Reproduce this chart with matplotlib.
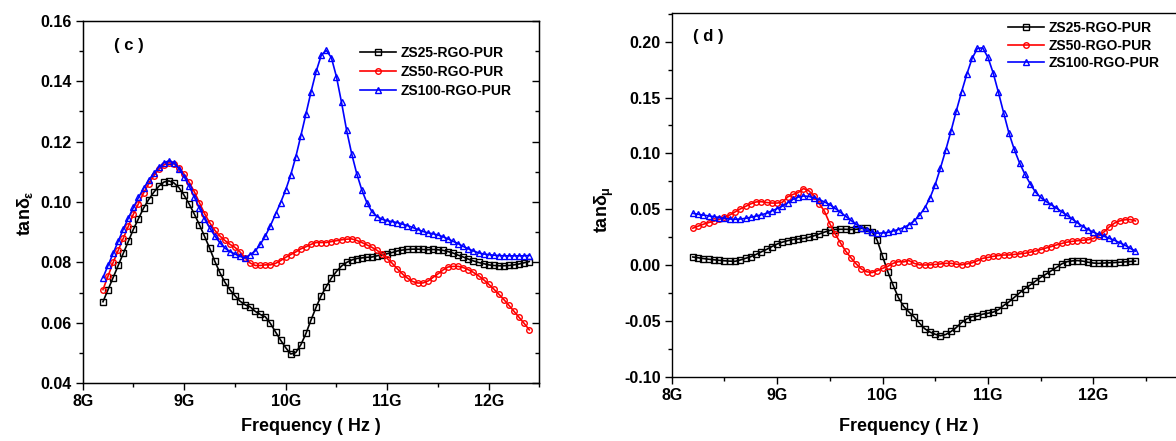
import numpy as np
import matplotlib
matplotlib.use("Agg")
import matplotlib.pyplot as plt
from matplotlib.ticker import MultipleLocator, FixedLocator, FuncFormatter

plt.rcParams['font.family'] = ['Liberation Sans', 'DejaVu Sans']
plt.rcParams['font.weight'] = 'bold'
plt.rcParams['mathtext.fontset'] = 'custom'
plt.rcParams['mathtext.rm'] = 'Liberation Sans:bold'
plt.rcParams['mathtext.it'] = 'Liberation Sans:bold'
plt.rcParams['mathtext.bf'] = 'Liberation Sans:bold'

# frequency grid in GHz (8.2 - 12.4, step 0.05)
freq = np.round(np.arange(8.2, 12.4001, 0.05), 2)

labels = ['ZS25-RGO-PUR', 'ZS50-RGO-PUR', 'ZS100-RGO-PUR']
xticks = [8, 9, 10, 11, 12]

# (c) dielectric loss tangent
tan_e_zs25 = [
    0.0670, 0.0710, 0.0750, 0.0790, 0.0830, 0.0870, 0.0910, 0.0945, 0.0980, 0.1008,
    0.1032, 0.1052, 0.1066, 0.1070, 0.1063, 0.1047, 0.1022, 0.0993, 0.0960, 0.0925,
    0.0887, 0.0848, 0.0805, 0.0768, 0.0735, 0.0710, 0.0690, 0.0672, 0.0660, 0.0653,
    0.0638, 0.0628, 0.0620, 0.0598, 0.0570, 0.0543, 0.0518, 0.0497, 0.0502, 0.0528,
    0.0565, 0.0610, 0.0652, 0.0690, 0.0720, 0.0748, 0.0770, 0.0788, 0.0800, 0.0808,
    0.0813, 0.0815, 0.0817, 0.0818, 0.0822, 0.0825, 0.0829, 0.0833, 0.0838, 0.0841,
    0.0843, 0.0844, 0.0844, 0.0843, 0.0842, 0.0843, 0.0842, 0.0840, 0.0836, 0.0831,
    0.0824, 0.0818, 0.0811, 0.0805, 0.0800, 0.0796, 0.0792, 0.0790, 0.0789, 0.0789,
    0.0790, 0.0792, 0.0795, 0.0799, 0.0803]
tan_e_zs50 = [
    0.0710, 0.0755, 0.0800, 0.0840, 0.0880, 0.0920, 0.0960, 0.0995, 0.1030, 0.1060,
    0.1087, 0.1108, 0.1123, 0.1130, 0.1126, 0.1112, 0.1092, 0.1065, 0.1034, 0.0998,
    0.0962, 0.0932, 0.0907, 0.0888, 0.0873, 0.0860, 0.0850, 0.0835, 0.0815, 0.0798,
    0.0790, 0.0790, 0.0792, 0.0792, 0.0797, 0.0806, 0.0817, 0.0826, 0.0835, 0.0845,
    0.0852, 0.0860, 0.0866, 0.0866, 0.0866, 0.0869, 0.0872, 0.0875, 0.0877, 0.0878,
    0.0873, 0.0866, 0.0858, 0.0850, 0.0840, 0.0828, 0.0813, 0.0797, 0.0779, 0.0762,
    0.0748, 0.0737, 0.0732, 0.0732, 0.0738, 0.0750, 0.0762, 0.0775, 0.0785, 0.0787,
    0.0787, 0.0783, 0.0776, 0.0767, 0.0756, 0.0743, 0.0728, 0.0712, 0.0695, 0.0677,
    0.0658, 0.0638, 0.0618, 0.0598, 0.0577]
tan_e_zs100 = [
    0.0750, 0.0790, 0.0830, 0.0870, 0.0910, 0.0947, 0.0982, 0.1015, 0.1045, 0.1072,
    0.1095, 0.1115, 0.1130, 0.1136, 0.1130, 0.1110, 0.1084, 0.1052, 0.1017, 0.0980,
    0.0945, 0.0915, 0.0889, 0.0866, 0.0848, 0.0836, 0.0828, 0.0820, 0.0815, 0.0826,
    0.0838, 0.0860, 0.0888, 0.0922, 0.0960, 0.0998, 0.1040, 0.1090, 0.1150, 0.1220,
    0.1292, 0.1365, 0.1432, 0.1485, 0.1502, 0.1478, 0.1415, 0.1330, 0.1238, 0.1160,
    0.1094, 0.1040, 0.0998, 0.0968, 0.0952, 0.0943, 0.0938, 0.0935, 0.0932, 0.0927,
    0.0922, 0.0916, 0.0909, 0.0903, 0.0898, 0.0895, 0.0891, 0.0885, 0.0878, 0.0870,
    0.0862, 0.0853, 0.0845, 0.0838, 0.0832, 0.0828, 0.0826, 0.0824, 0.0823, 0.0822,
    0.0822, 0.0822, 0.0822, 0.0822, 0.0823]

# (d) magnetic loss tangent
tan_m_zs25 = [
    0.0072, 0.0065, 0.0058, 0.0052, 0.0047, 0.0042, 0.0038, 0.0035, 0.0033, 0.0045,
    0.0060, 0.0075, 0.0095, 0.0118, 0.0140, 0.0165, 0.0188, 0.0205, 0.0218, 0.0228,
    0.0233, 0.0238, 0.0248, 0.0262, 0.0278, 0.0295, 0.0310, 0.0318, 0.0320, 0.0320,
    0.0318, 0.0320, 0.0328, 0.0332, 0.0300, 0.0220, 0.0080, -0.0060, -0.0180, -0.0290,
    -0.0370, -0.0420, -0.0465, -0.0520, -0.0570, -0.0600, -0.0620, -0.0633, -0.0622, -0.0595,
    -0.0560, -0.0515, -0.0482, -0.0462, -0.0458, -0.0440, -0.0432, -0.0422, -0.0400, -0.0362,
    -0.0330, -0.0290, -0.0250, -0.0212, -0.0180, -0.0145, -0.0112, -0.0082, -0.0052, -0.0022,
    0.0010, 0.0030, 0.0037, 0.0040, 0.0035, 0.0025, 0.0018, 0.0015, 0.0018, 0.0020,
    0.0022, 0.0025, 0.0028, 0.0032, 0.0035]
tan_m_zs50 = [
    0.0330, 0.0348, 0.0365, 0.0380, 0.0392, 0.0408, 0.0428, 0.0448, 0.0475, 0.0502,
    0.0525, 0.0548, 0.0565, 0.0567, 0.0560, 0.0555, 0.0555, 0.0562, 0.0610, 0.0632,
    0.0648, 0.0685, 0.0665, 0.0620, 0.0550, 0.0480, 0.0370, 0.0280, 0.0200, 0.0125,
    0.0065, 0.0010, -0.0035, -0.0060, -0.0068, -0.0050, -0.0030, -0.0012, 0.0015, 0.0030,
    0.0028, 0.0040, 0.0015, 0.0002, 0.0000, 0.0002, 0.0005, 0.0010, 0.0015, 0.0015,
    0.0008, 0.0002, 0.0010, 0.0020, 0.0038, 0.0060, 0.0068, 0.0078, 0.0085, 0.0090,
    0.0090, 0.0095, 0.0100, 0.0105, 0.0115, 0.0125, 0.0138, 0.0152, 0.0165, 0.0180,
    0.0193, 0.0205, 0.0212, 0.0218, 0.0222, 0.0226, 0.0238, 0.0260, 0.0295, 0.0340,
    0.0375, 0.0395, 0.0405, 0.0408, 0.0395]
tan_m_zs100 = [
    0.0463, 0.0455, 0.0447, 0.0440, 0.0433, 0.0425, 0.0418, 0.0412, 0.0410, 0.0412,
    0.0418, 0.0428, 0.0438, 0.0450, 0.0463, 0.0485, 0.0505, 0.0527, 0.0557, 0.0588,
    0.0608, 0.0618, 0.0615, 0.0602, 0.0585, 0.0565, 0.0540, 0.0508, 0.0473, 0.0437,
    0.0400, 0.0365, 0.0335, 0.0310, 0.0292, 0.0285, 0.0287, 0.0292, 0.0305, 0.0318,
    0.0335, 0.0360, 0.0395, 0.0445, 0.0510, 0.0600, 0.0720, 0.0870, 0.1030, 0.1200,
    0.1380, 0.1550, 0.1710, 0.1850, 0.1940, 0.1945, 0.1860, 0.1720, 0.1545, 0.1360,
    0.1180, 0.1035, 0.0915, 0.0815, 0.0730, 0.0655, 0.0605, 0.0570, 0.0540, 0.0510,
    0.0478, 0.0445, 0.0412, 0.0378, 0.0345, 0.0318, 0.0295, 0.0275, 0.0258, 0.0240,
    0.0222, 0.0200, 0.0178, 0.0150, 0.0125]

colors = ['black', 'red', 'blue']
markers = ['s', 'o', '^']


def ghz(x, pos):
    return '%dG' % round(x)


def draw_panel(ax, series, ylim, ymajor, yminor, xmax):
    for y, lab, c, m in zip(series, labels, colors, markers):
        ax.plot(freq, y, color=c, lw=1.2, marker=m, ms=4.0, mfc='none',
                mec=c, mew=1.0, label=lab)
    ax.set_xlim(8, xmax)
    ax.set_ylim(*ylim)
    ax.xaxis.set_major_locator(FixedLocator(xticks))
    ax.xaxis.set_minor_locator(MultipleLocator(0.5))
    ax.xaxis.set_major_formatter(FuncFormatter(ghz))
    ax.yaxis.set_major_locator(MultipleLocator(ymajor))
    ax.yaxis.set_minor_locator(MultipleLocator(yminor))
    ax.yaxis.set_major_formatter(FuncFormatter(lambda v, p: '%.2f' % v))
    ax.tick_params(which='both', direction='out', width=1.0, labelsize=11.5, pad=3,
                   top=False, right=False)
    ax.tick_params(which='major', length=5)
    ax.tick_params(which='minor', length=3)
    for s in ax.spines.values():
        s.set_linewidth(1.0)


def main():
    fig = plt.figure(figsize=(11.76, 4.41), dpi=100)

    # (c)
    ax1 = fig.add_axes([0.0703, 0.1308, 0.3884, 0.8222])
    draw_panel(ax1, [tan_e_zs25, tan_e_zs50, tan_e_zs100], (0.04, 0.16), 0.02, 0.01, 12.5)
    # inward ticks on the right spine
    ax1r = ax1.twinx()
    ax1r.set_ylim(ax1.get_ylim())
    ax1r.yaxis.set_major_locator(MultipleLocator(0.02))
    ax1r.yaxis.set_minor_locator(MultipleLocator(0.01))
    ax1r.tick_params(which='both', direction='in', width=1.0, labelright=False)
    ax1r.tick_params(which='major', length=5)
    ax1r.tick_params(which='minor', length=3)
    ax1.set_xlabel('Frequency ( Hz )', fontsize=13, fontweight='bold')
    ax1.xaxis.set_label_coords(0.5, -0.095)
    ax1.text(0.068, 0.933, '( c )', transform=ax1.transAxes, fontsize=12,
             fontweight='bold', va='center', ha='left')
    ax1.legend(loc='upper left', bbox_to_anchor=(0.607, 0.93), frameon=False,
               fontsize=10, handlelength=2.6, handletextpad=0.35, labelspacing=0.35,
               borderpad=0, borderaxespad=0)
    fig.text(25 / 1176, 1 - 213 / 441, r'tan$\delta_\varepsilon$', rotation=90,
             fontsize=13, fontweight='bold', ha='center', va='center')

    # (d)
    ax2 = fig.add_axes([0.5712, 0.1458, 0.4481, 0.8240])
    draw_panel(ax2, [tan_m_zs25, tan_m_zs50, tan_m_zs100], (-0.10, 0.2254), 0.05, 0.025, 13.0)
    ax2.set_xlabel('Frequency ( Hz )', fontsize=13, fontweight='bold')
    ax2.xaxis.set_label_coords(0.45, -0.115)
    ax2.text(0.04, 0.935, '( d )', transform=ax2.transAxes, fontsize=12,
             fontweight='bold', va='center', ha='left')
    ax2.legend(loc='upper left', bbox_to_anchor=(0.638, 0.978), frameon=False,
               fontsize=10, handlelength=2.6, handletextpad=0.35, labelspacing=0.25,
               borderpad=0, borderaxespad=0)
    fig.text(604 / 1176, 1 - 210 / 441, r'tan$\delta_\mu$', rotation=90,
             fontsize=13, fontweight='bold', ha='center', va='center')

    fig.savefig('out.png', dpi=100)


if __name__ == '__main__':
    main()
